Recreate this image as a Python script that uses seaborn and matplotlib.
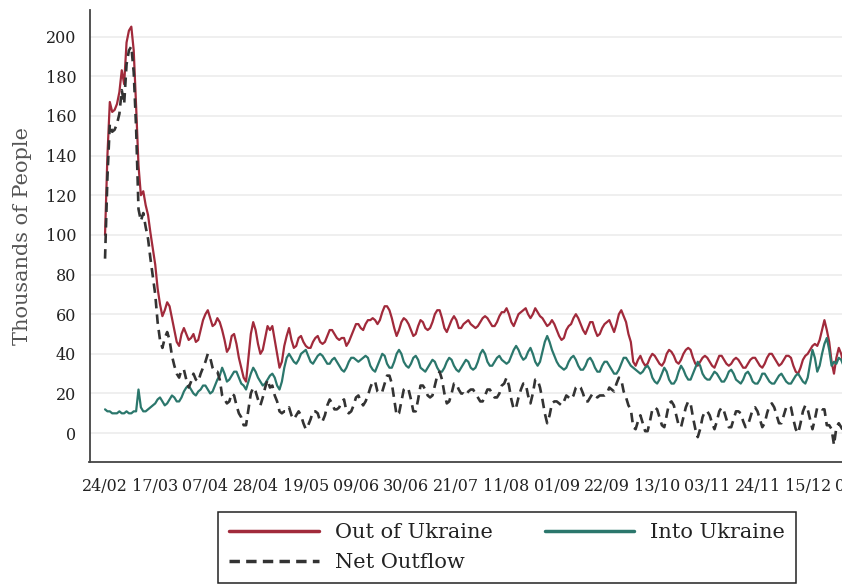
import matplotlib
matplotlib.use("Agg")
import matplotlib.pyplot as plt
import matplotlib.dates as mdates
from matplotlib.lines import Line2D
import seaborn as sns
import numpy as np
import pandas as pd

# daily border crossings, thousands of people, 24/02/2022 - 31/12/2022 (one row = one week)
out_of_ukraine = [
    100, 140, 167, 162, 163, 166, 172,
    183, 176, 197, 203, 205, 193, 165,
    135, 120, 122, 115, 110, 101, 93,
    85, 73, 65, 59, 62, 66, 64,
    58, 52, 46, 44, 50, 53, 50,
    47, 48, 50, 46, 47, 52, 57,
    60, 62, 58, 54, 55, 58, 56,
    52, 47, 41, 43, 49, 50, 45,
    38, 33, 28, 26, 38, 50, 56,
    52, 45, 40, 42, 48, 54, 52,
    54, 47, 40, 33, 36, 44, 49,
    53, 47, 43, 44, 48, 49, 46,
    44, 43, 43, 46, 48, 49, 46,
    45, 46, 49, 52, 52, 50, 48,
    47, 48, 48, 44, 46, 49, 52,
    55, 55, 53, 52, 55, 57, 57,
    58, 57, 55, 57, 61, 64, 64,
    62, 58, 53, 49, 52, 56, 58,
    57, 55, 52, 49, 50, 54, 57,
    56, 53, 52, 53, 56, 60, 62,
    62, 58, 53, 51, 54, 57, 59,
    57, 53, 53, 55, 56, 57, 55,
    54, 53, 54, 56, 58, 59, 58,
    56, 54, 54, 56, 59, 61, 61,
    63, 60, 56, 54, 57, 60, 61,
    62, 63, 60, 58, 60, 63, 61,
    59, 58, 56, 54, 55, 57, 55,
    52, 49, 47, 48, 52, 54, 55,
    58, 60, 58, 55, 52, 50, 53,
    56, 56, 52, 49, 50, 53, 55,
    56, 57, 54, 51, 55, 60, 62,
    59, 56, 50, 46, 36, 34, 37,
    39, 36, 34, 35, 38, 40, 39,
    37, 35, 34, 36, 40, 42, 41,
    39, 36, 35, 37, 40, 42, 43,
    42, 38, 35, 34, 36, 38, 39,
    38, 36, 34, 33, 36, 39, 39,
    37, 35, 34, 35, 37, 38, 37,
    35, 33, 33, 35, 37, 38, 38,
    36, 34, 33, 35, 38, 40, 40,
    38, 36, 34, 35, 37, 39, 39,
    38, 34, 31, 30, 33, 37, 39,
    40, 42, 44, 45, 44, 47, 52,
    57, 52, 46, 36, 30, 38, 43,
    40, 35, 38,
]

into_ukraine = [
    12, 11, 11, 10, 10, 10, 11,
    10, 10, 11, 10, 10, 11, 11,
    22, 13, 11, 11, 12, 13, 14,
    15, 17, 18, 16, 14, 15, 17,
    19, 18, 16, 16, 18, 21, 23,
    24, 22, 20, 19, 21, 22, 24,
    24, 22, 20, 21, 24, 27, 29,
    33, 30, 26, 27, 29, 31, 31,
    28, 25, 24, 22, 26, 30, 33,
    31, 28, 26, 24, 25, 27, 29,
    30, 28, 24, 22, 26, 33, 38,
    40, 38, 36, 35, 37, 40, 41,
    42, 39, 36, 35, 37, 39, 40,
    39, 37, 35, 35, 37, 38, 36,
    34, 32, 31, 33, 36, 38, 38,
    37, 36, 37, 38, 39, 38, 34,
    32, 31, 34, 37, 40, 39, 35,
    33, 33, 36, 40, 42, 40, 36,
    34, 33, 35, 38, 39, 37, 33,
    32, 31, 33, 35, 37, 36, 33,
    31, 31, 33, 36, 38, 37, 34,
    32, 31, 33, 35, 37, 36, 33,
    32, 33, 36, 40, 42, 40, 36,
    34, 34, 36, 38, 39, 37, 36,
    35, 36, 39, 42, 44, 42, 39,
    37, 38, 41, 43, 40, 36, 34,
    36, 41, 46, 49, 46, 42, 39,
    36, 34, 33, 32, 33, 36, 38,
    39, 37, 34, 32, 32, 34, 37,
    38, 36, 33, 31, 31, 34, 36,
    36, 34, 32, 30, 30, 32, 35,
    38, 38, 36, 34, 33, 32, 31,
    30, 31, 33, 34, 32, 28, 26,
    25, 27, 30, 33, 31, 27, 25,
    25, 27, 31, 34, 32, 29, 27,
    27, 30, 33, 36, 34, 30, 28,
    27, 27, 29, 31, 30, 28, 26,
    26, 28, 31, 32, 30, 27, 26,
    25, 27, 30, 31, 29, 26, 25,
    25, 27, 30, 30, 28, 26, 25,
    25, 27, 29, 30, 28, 26, 25,
    25, 27, 29, 30, 28, 26, 25,
    28, 35, 42, 38, 31, 34, 40,
    45, 48, 42, 34, 36, 35, 38,
    37, 34, 36,
]

tick_dates = ["24/02", "17/03", "07/04", "28/04", "19/05", "09/06", "30/06", "21/07",
              "11/08", "01/09", "22/09", "13/10", "03/11", "24/11", "15/12", "05/01"]
y_ticks = list(range(0, 201, 20))

dates = pd.date_range("2022-02-24", "2022-12-31", freq="D")
df = pd.DataFrame({"date": dates,
                   "Out of Ukraine": out_of_ukraine,
                   "Into Ukraine": into_ukraine})
df["Net Outflow"] = df["Out of Ukraine"] - df["Into Ukraine"]

RED = "#a12a3b"
TEAL = "#2b776c"
DARK = "#333333"

sns.set_style("white")
plt.rcParams["font.family"] = ["DejaVu Serif"]

fig = plt.figure(figsize=(8.42, 5.88), dpi=100)
ax = fig.add_axes([89.5 / 842, 126.3 / 588, 790 / 842, 451.7 / 588])

dash = (0, (3.6, 2.3))
sns.lineplot(data=df, x="date", y="Out of Ukraine", ax=ax, color=RED, lw=1.6)
sns.lineplot(data=df, x="date", y="Into Ukraine", ax=ax, color=TEAL, lw=1.6)
sns.lineplot(data=df, x="date", y="Net Outflow", ax=ax, color=DARK, lw=1.9, linestyle=dash)

start = pd.Timestamp("2022-02-24")
ticks = pd.date_range(start, periods=len(tick_dates), freq="21D")
ax.set_xticks(ticks)
ax.set_xticklabels(tick_dates)
ax.set_yticks(y_ticks)
ax.set_xlim(start - pd.Timedelta(days=6.5), start + pd.Timedelta(days=790 / 2.39 - 6.5))
ax.set_ylim(-14.4, 213.4)

ax.grid(axis="y", color="#ececec", lw=1.2)
ax.grid(axis="x", visible=False)
for s in ["top", "right"]:
    ax.spines[s].set_visible(False)
for s in ["left", "bottom"]:
    ax.spines[s].set_color("#444444")
    ax.spines[s].set_linewidth(1.3)

ax.tick_params(axis="both", direction="out", length=6.5, width=1.1, color="#444444",
               labelsize=11.5, labelcolor="#222222")
ax.tick_params(axis="x", pad=5)
ax.tick_params(axis="y", pad=3)

ax.set_xlabel("")
ax.set_ylabel("Thousands of People", fontsize=15, color="#555555")
ax.yaxis.set_label_coords(-0.073, 0.5)

handles = [Line2D([], [], color=RED, lw=2.5),
           Line2D([], [], color=DARK, lw=2.5, linestyle=(0, (3.0, 1.8))),
           Line2D([], [], color=TEAL, lw=2.5)]
labels = ["Out of Ukraine", "Net Outflow", "Into Ukraine"]
leg = fig.legend(handles, labels, loc="upper left", bbox_to_anchor=(218 / 842, 1 - 512 / 588),
                 ncol=2, fontsize=15, frameon=True, fancybox=False, borderpad=0.55,
                 handlelength=4.3, handletextpad=0.75, columnspacing=2.5, labelspacing=0.5,
                 borderaxespad=0)
leg.get_frame().set_edgecolor("#222222")
leg.get_frame().set_linewidth(1.1)
leg.get_frame().set_alpha(1)
for t in leg.get_texts():
    t.set_color("#222222")

fig.savefig("out.png", dpi=100)
